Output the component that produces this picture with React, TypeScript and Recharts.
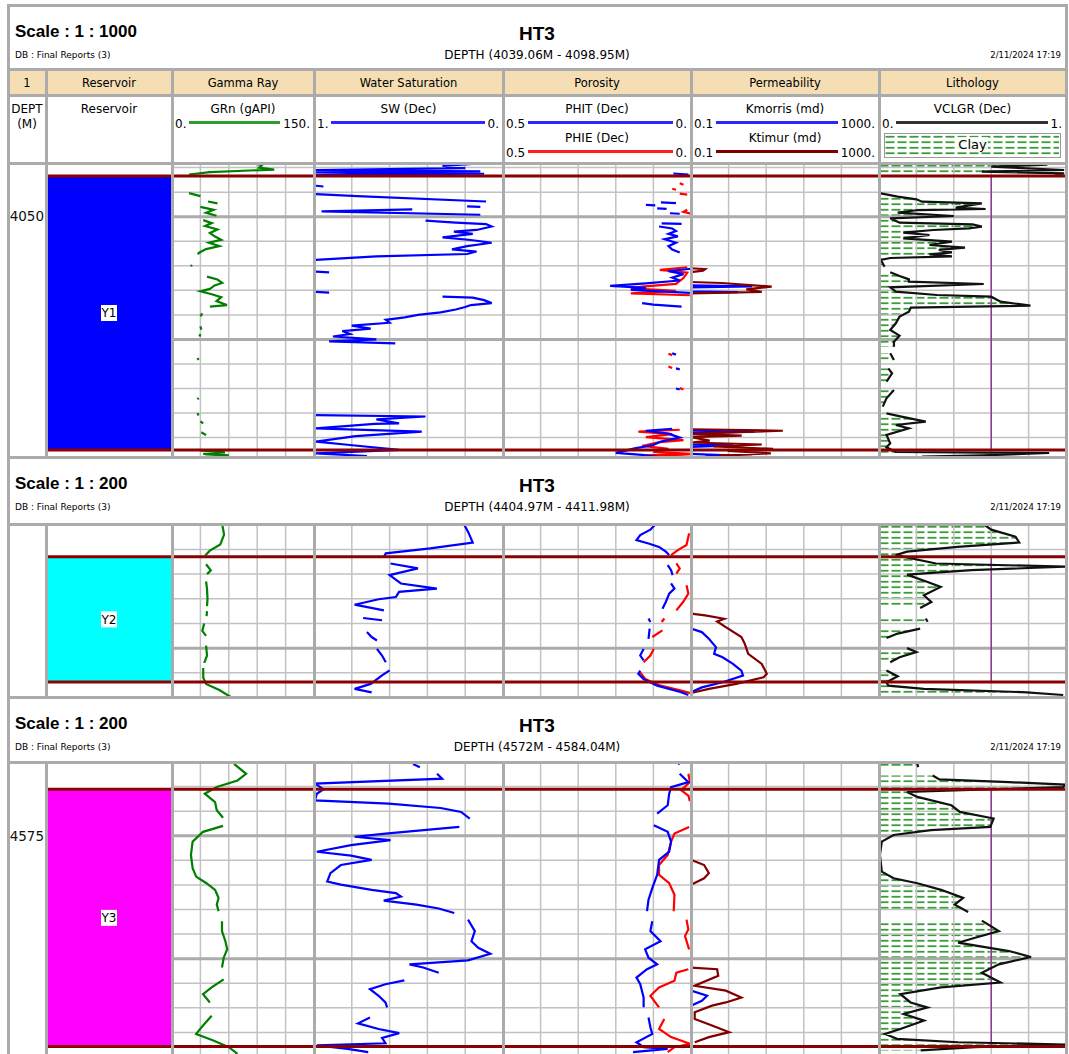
import React from "react";
import { Area, ComposedChart, Line, ReferenceArea, ReferenceLine, XAxis, YAxis } from "recharts";

type Pt = [number, number | null];

// value grid of each track (5 equal divisions)
const grGrid = [30, 60, 90, 120];
const swGrid = [0.2, 0.4, 0.6, 0.8];
const porGrid = [0.1, 0.2, 0.3, 0.4];
const permGrid = [0.631, 3.981, 25.12, 158.5];
const vclGrid = [0.2, 0.4, 0.6, 0.8];
const vclCutoff = 0.6;

// ---------- section 1 : 1/1000 ----------
const s1Range = [4039.06, 4098.95];
const s1Minor = [4040, 4045, 4055, 4060, 4065, 4070, 4080, 4085, 4090, 4095];
const s1Major = [4050, 4075];
const s1DepthLabels = [4050];
const s1Zone = { name: "Y1", top: 4041.71, bottom: 4097.52 };

const s1Gr: Pt[] = [
  [4039.2, 88], [4039.5, 95], [4040.0, 92], [4040.4, 108], [4040.9, 40], [4041.4, 18], [4042.5, null],
  [4045.2, 18], [4045.8, 30], [4046.3, null], [4046.9, 38], [4047.3, 48], [4047.6, null],
  [4048.0, 30], [4048.6, 44], [4049.2, 36], [4049.8, 47], [4050.2, null],
  [4050.7, 33], [4051.3, 42], [4051.9, 35], [4052.6, 48], [4053.3, 40], [4054.0, 45], [4054.7, 52],
  [4055.3, 39], [4056.0, 50], [4056.6, 36], [4057.2, 30], [4057.6, 27], [4058.5, null],
  [4059.8, 21], [4060.1, 20], [4061.0, null],
  [4062.2, 37], [4062.8, 48], [4063.5, 53], [4064.0, 45], [4064.7, 40], [4065.2, 30], [4065.8, 42],
  [4066.4, 52], [4067.2, 47], [4068.0, 58], [4068.3, 40], [4069.0, null],
  [4069.7, 32], [4070.3, 30], [4071.0, null], [4072.3, 30], [4073.0, 31], [4073.5, null],
  [4073.9, 30], [4074.4, 29], [4075.0, null], [4078.8, 27], [4079.2, 28], [4080.0, null],
  [4086.9, 28], [4087.2, 27], [4088.0, null], [4090.0, 27], [4090.5, 28], [4091.0, null],
  [4091.7, 30], [4092.1, 33], [4093.0, null], [4093.9, 31], [4094.5, 36], [4095.0, null],
  [4097.6, 30], [4098.0, 56], [4098.3, 33], [4098.6, 60], [4098.9, 35],
];

const s1Sw: Pt[] = [
  [4039.26, 0.16], [4039.67, 0.32], [4040.1, 0.2], [4040.5, 0.99], [4040.75, 0.12], [4041.0, 0.99],
  [4041.25, 0.1], [4041.5, 0.99], [4041.8, null], [4043.7, 0.99], [4043.85, 0.95], [4044.2, null],
  [4045.4, 0.99], [4045.8, 0.77], [4046.9, 0.09], [4047.2, null], [4047.9, 0.19], [4048.0, 0.12], [4048.3, null],
  [4048.5, 0.48], [4048.9, 0.96], [4049.6, 0.12], [4050.2, null],
  [4050.8, 0.41], [4051.2, 0.25], [4051.5, 0.09], [4052.0, 0.06], [4052.7, 0.14], [4053.05, 0.26],
  [4053.5, 0.16], [4054.2, 0.32], [4054.75, 0.17], [4055.3, 0.06], [4056.0, 0.19], [4056.65, 0.27],
  [4057.1, 0.14], [4057.6, 0.19], [4058.1, 0.67], [4058.8, 0.99], [4059.2, null],
  [4061.2, 0.99], [4061.35, 0.92], [4061.6, null], [4065.3, 0.99], [4065.45, 0.92], [4065.8, null],
  [4066.3, 0.32], [4066.5, 0.16], [4067.0, 0.1], [4067.6, 0.06], [4068.0, 0.17], [4068.4, 0.2],
  [4068.9, 0.25], [4069.5, 0.33], [4070.0, 0.45], [4070.5, 0.52], [4071.0, 0.62], [4071.6, 0.6],
  [4072.2, 0.8], [4072.8, 0.7], [4073.3, 0.85], [4073.9, 0.81], [4074.4, 0.9], [4075.0, 0.67],
  [4075.4, 0.92], [4075.8, 0.57], [4076.2, null],
  [4090.4, 0.99], [4090.7, 0.41], [4091.3, 0.67], [4092.1, 0.55], [4092.2, 0.68], [4093.1, 0.99],
  [4093.8, 0.43], [4094.7, 0.78], [4095.8, 0.99], [4096.5, 0.81], [4097.5, 0.55], [4098.2, 0.99], [4098.75, 0.72],
];

const s1Phit: Pt[] = [
  [4041.2, 0.047], [4041.4, 0.007], [4041.7, null],
  [4047.1, 0.08], [4047.25, 0.04], [4047.4, null], [4047.6, 0.12], [4047.7, 0.095], [4048.0, null],
  [4048.3, 0.09], [4048.4, 0.065], [4048.6, null], [4049.3, 0.056], [4049.4, 0.03], [4049.6, null],
  [4051.35, 0.078], [4051.45, 0.025], [4051.6, null],
  [4052.0, 0.085], [4052.4, 0.05], [4052.9, 0.04], [4053.5, 0.06], [4054.0, 0.035], [4054.6, 0.07],
  [4055.3, 0.04], [4056.0, 0.06], [4056.7, 0.05], [4057.3, 0.03], [4058.0, null],
  [4060.6, 0.0], [4061.1, 0.06], [4061.7, 0.02], [4062.4, 0.05], [4063.0, 0.03], [4063.6, 0.12],
  [4064.1, 0.215], [4064.5, 0.12], [4064.9, 0.16], [4065.5, 0.003], [4066.0, null],
  [4067.6, 0.13], [4067.9, 0.1], [4068.3, 0.025], [4068.6, null],
  [4077.8, 0.05], [4078.1, 0.04], [4078.4, null], [4080.9, 0.04], [4081.1, 0.03], [4081.3, null],
  [4085.0, 0.04], [4085.2, 0.03], [4085.4, null],
  [4093.2, 0.05], [4093.6, 0.12], [4094.2, 0.06], [4095.0, 0.03], [4095.8, 0.08], [4096.5, 0.1],
  [4097.2, 0.15], [4098.1, 0.2], [4098.5, 0.13], [4098.9, 0.09],
];

const s1Phie: Pt[] = [
  [4043.2, 0.03], [4043.5, 0.02], [4043.8, null], [4044.3, 0.05], [4044.5, 0.04], [4044.8, null],
  [4045.3, 0.03], [4045.5, 0.01], [4045.8, null], [4048.6, 0.01], [4049.0, 0.02], [4049.4, 0.0], [4049.6, null],
  [4060.3, 0.01], [4060.85, 0.083], [4061.4, 0.01], [4062.5, 0.02], [4063.7, 0.04], [4064.25, 0.13],
  [4064.6, 0.16], [4065.1, 0.04], [4065.6, 0.16], [4066.0, 0.003], [4066.3, null],
  [4077.9, 0.06], [4078.2, 0.05], [4078.5, null], [4080.5, 0.06], [4080.8, 0.05], [4081.0, null],
  [4084.9, 0.03], [4085.2, 0.02], [4085.5, null],
  [4093.4, 0.03], [4093.8, 0.14], [4094.3, 0.05], [4094.9, 0.12], [4095.5, 0.02], [4096.0, 0.09],
  [4096.7, 0.13], [4097.3, 0.06], [4097.9, 0.1], [4098.3, 0.0], [4098.6, 0.12], [4098.9, 0.0],
];

const s1Kmor: Pt[] = [
  [4064.0, 0.1], [4064.2, 2.0], [4064.4, 0.1], [4065.2, 0.1], [4065.35, 1.0], [4065.5, 0.1], [4065.8, null],
  [4093.6, 0.1], [4093.8, 2.2], [4094.1, 0.1], [4094.4, null], [4096.4, 0.1], [4096.6, 0.8], [4096.9, 0.1],
  [4097.2, null], [4098.3, 0.1], [4098.6, 0.6], [4098.9, 0.2],
];

const s1Ktim: Pt[] = [
  [4060.5, 0.1], [4060.7, 0.2], [4061.0, 0.18], [4061.3, 0.1], [4061.6, null],
  [4063.3, 0.1], [4063.5, 0.45], [4064.25, 5.2], [4064.8, 1.5], [4065.3, 3.2], [4065.6, 0.1], [4065.9, null],
  [4093.3, 0.1], [4093.6, 9.0], [4094.0, 0.5], [4094.3, 0.1], [4094.6, 1.2], [4094.9, 0.1], [4095.6, 0.25],
  [4096.0, 0.1], [4096.4, 3.2], [4096.8, 0.3], [4097.3, 5.6], [4097.7, 0.6], [4098.2, 5.0], [4098.6, 0.4], [4098.9, 2.0],
];

const s1Vcl: Pt[] = [
  [4039.26, 0.78], [4039.4, 0.9], [4039.81, 0.6], [4040.49, 0.99], [4040.83, 0.55], [4041.17, 0.99],
  [4041.44, 0.94], [4041.8, null],
  [4045.24, 0.01], [4045.92, 0.1], [4046.46, 0.2], [4046.94, 0.23], [4047.28, 0.55], [4048.16, 0.41],
  [4048.43, 0.57], [4048.64, 0.21], [4049.18, 0.1], [4049.86, 0.4], [4050.33, 0.06], [4051.22, 0.11],
  [4051.55, 0.5], [4052.03, 0.55], [4052.37, 0.48], [4052.71, 0.29], [4053.25, 0.13], [4053.73, 0.27],
  [4054.41, 0.13], [4055.09, 0.39], [4055.76, 0.27], [4056.31, 0.46], [4056.78, 0.32], [4057.26, 0.39],
  [4057.67, 0.27], [4058.07, 0.39], [4058.41, 0.06], [4058.82, 0.01], [4060.18, 0.03], [4060.7, null],
  [4061.33, 0.06], [4062.08, 0.11], [4062.76, 0.16], [4063.23, 0.16], [4063.71, 0.56], [4064.39, 0.06],
  [4065.27, 0.09], [4065.95, 0.31], [4066.29, 0.6], [4067.31, 0.65], [4068.12, 0.81], [4068.53, 0.17],
  [4069.34, 0.16], [4070.36, 0.11], [4071.72, 0.09], [4073.08, 0.06], [4074.23, 0.11], [4075.46, 0.08],
  [4076.47, 0.08], [4077.0, null], [4077.83, 0.06], [4079.19, 0.08], [4080.0, null], [4080.89, 0.05],
  [4081.91, 0.07], [4083.6, 0.04], [4084.4, null], [4085.3, 0.08], [4087.0, 0.04], [4088.69, 0.02],
  [4089.4, null], [4090.05, 0.04], [4090.73, 0.12], [4091.75, 0.25],
  [4092.43, 0.09], [4093.11, 0.16], [4094.47, 0.04], [4096.17, 0.06], [4096.98, 0.04], [4097.93, 0.09],
  [4098.13, 0.91], [4098.61, 0.55], [4098.88, 0.23],
];

// ---------- section 2 : 1/200 ----------
const s2Range = [4404.97, 4411.98];
const s2Minor = [4405, 4406, 4407, 4408, 4409, 4411];
const s2Major = [4410];
const s2DepthLabels: number[] = [];
const s2Zone = { name: "Y2", top: 4406.3, bottom: 4411.37 };

const s2Gr: Pt[] = [
  [4404.97, 53], [4405.4, 55], [4405.8, 51], [4406.05, 40], [4406.25, 35], [4406.4, null],
  [4406.6, 36], [4406.85, 41], [4407.0, 37], [4407.15, null], [4407.3, 36], [4407.6, 37], [4408.0, 37.5],
  [4408.3, 37], [4408.4, null], [4408.5, 37], [4408.7, 36.5], [4408.85, null], [4409.0, 34], [4409.3, 32],
  [4409.5, 36], [4409.7, null], [4409.9, 36], [4410.3, 37], [4410.6, 34], [4410.7, null], [4410.8, 33],
  [4411.2, 33], [4411.45, 36], [4411.7, 50], [4411.98, 62],
];

const s2Sw: Pt[] = [
  [4404.94, 0.21], [4405.28, 0.185], [4405.72, 0.16], [4405.96, 0.385], [4406.16, 0.62], [4406.3, 0.63],
  [4406.42, null], [4406.57, 0.595], [4406.77, 0.45], [4407.04, 0.6], [4407.38, 0.54], [4407.59, 0.35],
  [4407.72, 0.55], [4407.93, 0.567], [4408.02, 0.658], [4408.24, 0.785], [4408.47, 0.63], [4408.6, null],
  [4408.78, 0.74], [4408.87, 0.64], [4409.1, null], [4409.35, 0.72], [4409.55, 0.695], [4409.69, 0.667],
  [4409.85, null], [4410.03, 0.667], [4410.3, 0.64], [4410.57, 0.62], [4410.72, null], [4410.9, 0.6],
  [4411.1, 0.64], [4411.45, 0.7], [4411.65, 0.785], [4411.79, 0.695],
];

const s2Phit: Pt[] = [
  [4404.97, 0.094], [4405.2, 0.108], [4405.42, 0.135], [4405.62, 0.145], [4405.76, 0.113], [4405.9, 0.085],
  [4406.09, 0.067], [4406.23, 0.058], [4406.4, null], [4406.64, 0.062], [4406.84, 0.053], [4407.04, 0.049],
  [4407.2, null], [4407.38, 0.053], [4407.59, 0.044], [4407.79, 0.058], [4408.13, 0.067], [4408.4, 0.076],
  [4408.6, null], [4408.8, 0.113], [4408.94, 0.108], [4409.05, null], [4409.21, 0.11], [4409.62, 0.113],
  [4409.8, null], [4410.03, 0.126], [4410.3, 0.135], [4410.5, 0.126], [4410.7, null], [4410.91, 0.135],
  [4411.04, 0.14], [4411.25, 0.126], [4411.52, 0.09], [4411.79, 0.026], [4411.9, 0.007],
];

const s2Phie: Pt[] = [
  [4405.35, 0.005], [4405.62, 0.009], [4405.82, 0.012], [4406.03, 0.035], [4406.23, 0.053], [4406.4, null],
  [4406.57, 0.039], [4406.77, 0.03], [4406.98, 0.039], [4407.2, null], [4407.45, 0.012], [4407.79, 0.007],
  [4408.13, 0.021], [4408.47, 0.039], [4408.6, null], [4408.8, 0.071], [4408.94, 0.078], [4409.1, null],
  [4409.28, 0.076], [4409.55, 0.103], [4409.8, null], [4410.03, 0.099], [4410.3, 0.108], [4410.57, 0.126],
  [4410.75, null], [4410.98, 0.135], [4411.25, 0.122], [4411.52, 0.081], [4411.72, 0.026], [4411.82, 0.002],
];

const s2Kmor: Pt[] = [
  [4409.21, 0.1], [4409.35, 0.17], [4409.62, 0.24], [4409.96, 0.34], [4410.23, 0.31], [4410.37, 0.47],
  [4410.64, 0.78], [4410.91, 1.18], [4411.11, 1.28], [4411.38, 0.47], [4411.59, 0.17], [4411.79, 0.1],
];

const s2Ktim: Pt[] = [
  [4408.6, 0.1], [4408.67, 0.2], [4408.81, 0.51], [4408.92, 0.36], [4409.15, 0.55], [4409.55, 1.18],
  [4409.82, 1.39], [4410.23, 1.65], [4410.64, 3.2], [4411.04, 4.1], [4411.18, 3.5], [4411.45, 0.92],
  [4411.65, 0.24], [4411.82, 0.1],
];

const s2Vcl: Pt[] = [
  [4404.98, 0.56], [4405.2, 0.6], [4405.48, 0.73], [4405.72, 0.75], [4405.9, 0.42], [4406.09, 0.15],
  [4406.23, 0.09], [4406.57, 0.305], [4406.7, 0.995], [4406.84, 0.495], [4407.02, 0.15], [4407.32, 0.26],
  [4407.52, 0.33], [4407.86, 0.24], [4408.13, 0.28], [4408.37, 0.22], [4408.55, null], [4408.8, 0.25],
  [4408.93, 0.26], [4409.05, null], [4409.21, 0.22], [4409.41, 0.1], [4409.59, 0.04], [4409.8, null],
  [4410.0, 0.15], [4410.16, 0.2], [4410.37, 0.11], [4410.57, 0.06], [4410.72, null], [4410.91, 0.04],
  [4411.14, 0.1], [4411.38, 0.04], [4411.52, 0.05], [4411.65, 0.24], [4411.79, 0.79], [4411.9, 0.985],
];

// ---------- section 3 : 1/200 ----------
const s3Range = [4572, 4584.04];
const s3Minor = [4573, 4574, 4576, 4577, 4578, 4579, 4581, 4582, 4583, 4584];
const s3Major = [4575, 4580];
const s3DepthLabels = [4575];
const s3Zone = { name: "Y3", top: 4573.11, bottom: 4583.57 };

const s3Gr: Pt[] = [
  [4572.08, 65.5], [4572.48, 78.3], [4572.75, 69.2], [4573.02, 47.3], [4573.29, 34.6], [4573.63, 45.5],
  [4573.96, 47.3], [4574.27, 53.9], [4574.42, null], [4574.6, 53.9], [4574.84, 32.8], [4575.24, 21.8],
  [4575.78, 20], [4576.32, 21.8], [4576.66, 25.5], [4576.93, 36.4], [4577.2, 45.5], [4577.53, 49.2],
  [4577.8, 47.3], [4578.07, 49.2], [4578.25, null], [4578.48, 52.8], [4578.88, 52.8], [4579.29, 56.4],
  [4579.62, 58.3], [4579.96, 54.6], [4580.36, 52.8], [4580.6, null], [4580.84, 54.6], [4581.17, 41.9],
  [4581.44, 32.8], [4581.78, 40], [4582.0, null], [4582.32, 41.9], [4582.72, 32.8], [4583.06, 25.5],
  [4583.33, 43.7], [4583.6, 60], [4583.87, 69.2],
];

const s3Sw: Pt[] = [
  [4572.08, 0.476], [4572.21, 0.44], [4572.35, null], [4572.48, 0.349], [4572.68, 0.322], [4572.88, 0.995],
  [4573.11, 0.95], [4573.29, 0.985], [4573.56, 0.995], [4573.69, 0.604], [4573.87, 0.33], [4574.03, 0.222],
  [4574.3, 0.176], [4574.45, null], [4574.64, 0.231], [4574.91, 0.622], [4575.04, 0.785], [4575.18, 0.595],
  [4575.38, 0.804], [4575.65, 0.985], [4575.81, 0.804], [4575.98, 0.695], [4576.19, 0.858], [4576.52, 0.913],
  [4576.86, 0.93], [4576.99, 0.858], [4577.2, 0.695], [4577.33, 0.567], [4577.47, 0.54], [4577.64, 0.631],
  [4577.8, 0.458], [4577.96, 0.34], [4578.14, 0.258], [4578.28, null], [4578.41, 0.185], [4578.88, 0.149],
  [4579.29, 0.167], [4579.56, 0.131], [4579.8, 0.067], [4580.07, 0.185], [4580.23, 0.495], [4580.36, 0.422],
  [4580.57, 0.34], [4580.72, null], [4580.88, 0.522], [4581.04, 0.622], [4581.24, 0.704], [4581.51, 0.658],
  [4581.78, 0.622], [4581.98, 0.613], [4582.18, null], [4582.39, 0.704], [4582.63, 0.767], [4582.86, 0.658],
  [4583.03, 0.549], [4583.22, 0.64], [4583.44, 0.622], [4583.53, 0.985], [4583.67, 0.822], [4583.8, 0.713],
];

const s3Phit: Pt[] = [
  [4572.0, 0.035], [4572.1, 0.03], [4572.25, null], [4572.48, 0.03], [4572.82, 0.007], [4573.02, 0.053],
  [4573.29, 0.058], [4573.76, 0.062], [4574.1, 0.09], [4574.3, null], [4574.57, 0.099], [4574.84, 0.062],
  [4575.24, 0.053], [4575.65, 0.058], [4575.98, 0.085], [4576.59, 0.09], [4577.13, 0.103], [4577.6, 0.113],
  [4578.07, 0.117], [4578.25, null], [4578.48, 0.103], [4578.88, 0.108], [4579.29, 0.081], [4579.62, 0.122],
  [4579.96, 0.113], [4580.23, 0.09], [4580.43, 0.117], [4580.77, 0.145], [4581.04, 0.135], [4581.58, 0.126],
  [4581.98, 0.126], [4582.18, null], [4582.39, 0.113], [4582.79, 0.108], [4583.06, 0.103], [4583.4, 0.145],
  [4583.6, 0.126], [4583.67, 0.062], [4583.8, 0.154],
];

const s3Phie: Pt[] = [
  [4572.48, 0.007], [4572.82, 0.003], [4573.15, 0.026], [4573.37, 0.007], [4573.6, 0.003], [4573.9, null],
  [4574.64, 0.005], [4574.91, 0.044], [4575.24, 0.053], [4575.78, 0.062], [4576.19, 0.085], [4576.59, 0.085],
  [4576.93, 0.058], [4577.4, 0.044], [4578.07, 0.046], [4578.25, null], [4578.41, 0.012], [4578.81, 0.007],
  [4579.08, 0.016], [4579.62, 0.005], [4580.0, null], [4580.43, 0.007], [4580.57, 0.039], [4580.9, 0.044],
  [4581.17, 0.085], [4581.51, 0.108], [4581.98, 0.085], [4582.2, null], [4582.45, 0.071], [4582.86, 0.085],
  [4583.19, 0.053], [4583.46, 0.003], [4583.6, 0.044], [4583.8, 0.062],
];

const s3Kmor: Pt[] = [
  [4581.3, 0.1], [4581.51, 0.22], [4581.71, 0.17], [4581.91, 0.1],
];

const s3Ktim: Pt[] = [
  [4575.98, 0.1], [4576.19, 0.19], [4576.52, 0.24], [4576.73, 0.19], [4576.99, 0.1], [4577.3, null],
  [4580.36, 0.1], [4580.43, 0.36], [4580.7, 0.38], [4581.1, 0.12], [4581.3, 0.55], [4581.58, 1.18],
  [4581.78, 0.55], [4581.91, 0.28], [4582.18, 0.12], [4582.45, 0.12], [4582.72, 0.28], [4582.99, 0.65],
  [4583.19, 0.24], [4583.4, 0.12],
];

const s3Vcl: Pt[] = [
  [4572.08, 0.205], [4572.21, 0.21], [4572.35, null], [4572.55, 0.287], [4572.71, 0.323], [4572.82, 0.695],
  [4572.92, 0.995], [4573.02, 0.985], [4573.22, 0.15], [4573.42, 0.205], [4573.76, 0.387], [4574.03, 0.432],
  [4574.3, 0.613], [4574.64, 0.595], [4574.77, 0.278], [4574.97, 0.078], [4575.24, 0.015], [4575.78, 0.005],
  [4576.46, 0.015], [4576.73, 0.078], [4576.93, 0.205], [4577.2, 0.332], [4577.53, 0.45], [4577.8, 0.405],
  [4578.1, 0.477], [4578.25, null], [4578.45, 0.55], [4578.88, 0.641], [4579.15, 0.514], [4579.35, 0.423],
  [4579.69, 0.695], [4579.93, 0.813], [4580.23, 0.641], [4580.57, 0.55], [4580.97, 0.65], [4581.17, 0.332],
  [4581.44, 0.114], [4581.78, 0.169], [4581.98, 0.26], [4582.25, 0.132], [4582.52, 0.241], [4582.86, 0.114],
  [4583.06, 0.033], [4583.26, 0.096], [4583.4, 0.423], [4583.49, 0.995], [4583.6, 0.514], [4583.73, 0.223],
];

// ---------- layout ----------
const FONT = "'DejaVu Sans', sans-serif";
const TITLE_FONT = "'Liberation Sans', Arial, sans-serif";
const COLS = [8, 46, 172, 314, 503, 691, 879, 1066];
const GRID = "#c2c2c2";
const GRID_MAJOR = "#ababab";
const BORDER = "#ababab";
const ZONE_LINE = "#8b0000";
const WHEAT = "#f5deb3";

const sections = [
  {
    top: 5, dataTop: 163, dataBottom: 457, scale: "Scale : 1 : 1000", range: "DEPTH (4039.06M - 4098.95M)",
    depth: s1Range, minor: s1Minor, major: s1Major, labels: s1DepthLabels, zone: s1Zone, zoneColor: "#0000ff",
    gr: s1Gr, sw: s1Sw, phit: s1Phit, phie: s1Phie, kmor: s1Kmor, ktim: s1Ktim, vcl: s1Vcl,
  },
  {
    top: 457, dataTop: 524, dataBottom: 697, scale: "Scale : 1 : 200", range: "DEPTH (4404.97M - 4411.98M)",
    depth: s2Range, minor: s2Minor, major: s2Major, labels: s2DepthLabels, zone: s2Zone, zoneColor: "#00ffff",
    gr: s2Gr, sw: s2Sw, phit: s2Phit, phie: s2Phie, kmor: s2Kmor, ktim: s2Ktim, vcl: s2Vcl,
  },
  {
    top: 697, dataTop: 762, dataBottom: 1058, scale: "Scale : 1 : 200", range: "DEPTH (4572M - 4584.04M)",
    depth: s3Range, minor: s3Minor, major: s3Major, labels: s3DepthLabels, zone: s3Zone, zoneColor: "#ff00ff",
    gr: s3Gr, sw: s3Sw, phit: s3Phit, phie: s3Phie, kmor: s3Kmor, ktim: s3Ktim, vcl: s3Vcl,
  },
];

// split a curve into its unbroken runs (null = no reading)
const runs = (pts: Pt[]) => {
  const out: { d: number; v: number }[][] = [];
  let cur: { d: number; v: number }[] = [];
  pts.forEach(([d, v]) => {
    if (v == null) {
      if (cur.length) out.push(cur);
      cur = [];
    } else cur.push({ d, v });
  });
  if (cur.length) out.push(cur);
  return out;
};
const noMargin = { top: 0, right: 0, bottom: 0, left: 0 };

function Txt({ left, top, width, size, bold, align, font, children, color }: any) {
  const h = Math.ceil(size * 1.5);
  return (
    <div
      style={{
        position: "absolute", left, top: top - h / 2, width, height: h, lineHeight: `${h}px`,
        fontSize: size, fontWeight: bold ? 700 : 400, textAlign: align || "left", whiteSpace: "nowrap",
        fontFamily: font || FONT, color: color || "#000",
      }}
    >
      {children}
    </div>
  );
}

function HLine({ x0, x1, y, w = 3 }: any) {
  return <div style={{ position: "absolute", left: x0, top: y - Math.floor(w / 2), width: x1 - x0, height: w, background: BORDER }} />;
}
function VLine({ x, y0, y1, w = 3 }: any) {
  return <div style={{ position: "absolute", left: x - Math.floor(w / 2), top: y0, width: w, height: y1 - y0, background: BORDER }} />;
}

function ClayPattern({ id }: { id: string }) {
  return (
    <pattern id={id} patternUnits="userSpaceOnUse" width={12} height={5.5}>
      <line x1={0.5} y1={2.75} x2={9.5} y2={2.75} stroke="#3c9c3c" strokeWidth={1.8} />
    </pattern>
  );
}

function LogTrack({ x0, x1, top, bottom, depth, domain, log, reversed, grid, minor, major, curves, fill, zone, cutoff, pid }: any) {
  const width = x1 - x0;
  const height = bottom - top;
  return (
    <div style={{ position: "absolute", left: x0, top, width, height }}>
      <ComposedChart layout="vertical" width={width} height={height} margin={noMargin}>
        {fill && (
          <defs>
            <ClayPattern id={pid} />
          </defs>
        )}
        <XAxis type="number" domain={domain} scale={log ? "log" : "linear"} reversed={reversed} hide allowDataOverflow />
        <YAxis type="number" dataKey="d" domain={depth} hide allowDataOverflow />
        {fill &&
          runs(fill).map((seg, j) => (
            <Area key={`f${j}`} data={seg} dataKey="v" stroke="none" fill={`url(#${pid})`} fillOpacity={1} isAnimationActive={false} />
          ))}
        {grid.map((v: number) => (
          <ReferenceLine key={`g${v}`} x={v} stroke={GRID} strokeWidth={1.5} />
        ))}
        {minor.map((d: number) => (
          <ReferenceLine key={`m${d}`} y={d} stroke={GRID} strokeWidth={1.5} />
        ))}
        {major.map((d: number) => (
          <ReferenceLine key={`M${d}`} y={d} stroke={GRID_MAJOR} strokeWidth={3} />
        ))}
        {cutoff != null && (
          <ReferenceLine segment={[{ x: cutoff, y: zone.top }, { x: cutoff, y: zone.bottom }]} stroke="#8e1f8e" strokeWidth={1.3} />
        )}
        {curves.map((c: any, i: number) =>
          runs(c.pts).map((seg, j) => (
            <Line
              key={`c${i}-${j}`} data={seg} dataKey="v" stroke={c.color} strokeWidth={2.2}
              dot={false} activeDot={false} isAnimationActive={false}
            />
          ))
        )}
        <ReferenceLine y={zone.top} stroke={ZONE_LINE} strokeWidth={3} />
        <ReferenceLine y={zone.bottom} stroke={ZONE_LINE} strokeWidth={3} />
      </ComposedChart>
    </div>
  );
}

function ZoneLabel({ viewBox, text }: any) {
  if (!viewBox) return null;
  const cx = viewBox.x + viewBox.width / 2;
  const cy = viewBox.y + viewBox.height / 2;
  return (
    <g>
      <rect x={cx - 8} y={cy - 8} width={16} height={16} fill="#fff" />
      <text x={cx} y={cy + 4.5} textAnchor="middle" fontSize={12} fill="#000" fontFamily={FONT}>
        {text}
      </text>
    </g>
  );
}

function ZoneTrack({ x0, x1, top, bottom, depth, zone, color }: any) {
  const width = x1 - x0;
  const height = bottom - top;
  const edges = [{ d: zone.top, v: 1 }, { d: zone.bottom, v: 1 }];
  return (
    <div style={{ position: "absolute", left: x0, top, width, height }}>
      <ComposedChart layout="vertical" width={width} height={height} margin={noMargin}>
        <XAxis type="number" domain={[0, 1]} hide />
        <YAxis type="number" dataKey="d" domain={depth} hide allowDataOverflow />
        <Area data={edges} dataKey="v" stroke="none" fill={color} fillOpacity={1} isAnimationActive={false} />
        <ReferenceArea
          x1={0} x2={1} y1={zone.top} y2={zone.bottom} fill={color} fillOpacity={1} stroke="none"
          label={{ content: (p: any) => <ZoneLabel viewBox={p.viewBox} text={zone.name} /> }}
        />
        <ReferenceLine y={zone.top} stroke={ZONE_LINE} strokeWidth={3} />
        <ReferenceLine y={zone.bottom} stroke={ZONE_LINE} strokeWidth={3} />
      </ComposedChart>
    </div>
  );
}

function DepthTrack({ x0, x1, top, bottom, depth, labels, zone }: any) {
  const width = x1 - x0;
  const height = bottom - top;
  const edges = [{ d: zone.top, v: 0 }, { d: zone.bottom, v: 0 }];
  return (
    <div style={{ position: "absolute", left: x0, top, width, height }}>
      <ComposedChart layout="vertical" width={width} height={height} margin={noMargin}>
        <XAxis type="number" domain={[0, 1]} hide />
        <YAxis type="number" dataKey="d" domain={depth} hide allowDataOverflow />
        <Line data={edges} dataKey="v" stroke="none" dot={false} activeDot={false} isAnimationActive={false} />
        {labels.map((d: number) => (
          <ReferenceLine
            key={d} y={d} stroke="none"
            label={{ value: String(d), position: "insideRight", offset: 2, fontSize: 13.5, fill: "#111", fontFamily: FONT }}
          />
        ))}
      </ComposedChart>
    </div>
  );
}

function Title({ top, scale, range }: any) {
  return (
    <>
      <Txt left={15} top={top + 27} size={17} bold font={TITLE_FONT}>{scale}</Txt>
      <Txt left={15} top={top + 50} size={9}>DB : Final Reports (3)</Txt>
      <Txt left={8} width={1058} top={top + 28} size={19} bold align="center" font={TITLE_FONT}>HT3</Txt>
      <Txt left={8} width={1058} top={top + 50} size={12} align="center">{range}</Txt>
      <Txt left={900} width={161} top={top + 50} size={8.5} align="right">2/11/2024 17:19</Txt>
    </>
  );
}

function Section({ s, idx }: any) {
  const common = { top: s.dataTop, bottom: s.dataBottom, depth: s.depth, minor: s.minor, major: s.major, zone: s.zone };
  return (
    <>
      <Title top={s.top} scale={s.scale} range={s.range} />
      <DepthTrack x0={COLS[0]} x1={COLS[1]} top={s.dataTop} bottom={s.dataBottom} depth={s.depth} labels={s.labels} zone={s.zone} />
      <ZoneTrack x0={COLS[1]} x1={COLS[2]} top={s.dataTop} bottom={s.dataBottom} depth={s.depth} zone={s.zone} color={s.zoneColor} />
      <LogTrack {...common} x0={COLS[2]} x1={COLS[3]} domain={[0, 150]} grid={grGrid} curves={[{ pts: s.gr, color: "#008000" }]} />
      <LogTrack {...common} x0={COLS[3]} x1={COLS[4]} domain={[0, 1]} reversed grid={swGrid} curves={[{ pts: s.sw, color: "#0000ff" }]} />
      <LogTrack
        {...common} x0={COLS[4]} x1={COLS[5]} domain={[0, 0.5]} reversed grid={porGrid}
        curves={[{ pts: s.phie, color: "#ff0000" }, { pts: s.phit, color: "#0000ff" }]}
      />
      <LogTrack
        {...common} x0={COLS[5]} x1={COLS[6]} domain={[0.1, 1000]} log grid={permGrid}
        curves={[{ pts: s.kmor, color: "#0000ff" }, { pts: s.ktim, color: "#800000" }]}
      />
      <LogTrack
        {...common} x0={COLS[6]} x1={COLS[7]} domain={[0, 1]} grid={vclGrid} cutoff={vclCutoff}
        fill={s.vcl} pid={`clay${idx}`} curves={[{ pts: s.vcl, color: "#111111" }]}
      />
    </>
  );
}

function LegendRow({ x0, x1, y, left, right, color }: any) {
  return (
    <div
      style={{
        position: "absolute", left: x0 + 3, top: y - 8, width: x1 - x0 - 7, height: 16, display: "flex",
        alignItems: "center", gap: 3, fontSize: 12, fontFamily: FONT,
      }}
    >
      <span style={{ position: "relative", top: 2 }}>{left}</span>
      <span style={{ flex: 1, height: 3, background: color }} />
      <span style={{ position: "relative", top: 2 }}>{right}</span>
    </div>
  );
}

function TrackHeader() {
  const names = ["1", "Reservoir", "Gamma Ray", "Water Saturation", "Porosity", "Permeability", "Lithology"];
  const c = (i: number) => COLS[i];
  const w = (i: number) => COLS[i + 1] - COLS[i];
  return (
    <>
      <div style={{ position: "absolute", left: 8, top: 69, width: 1058, height: 26, background: WHEAT }} />
      {names.map((n, i) => (
        <Txt key={n} left={c(i)} width={w(i)} top={83} size={11.5} align="center">{n}</Txt>
      ))}
      <Txt left={c(0)} width={w(0)} top={109} size={12} align="center">DEPT</Txt>
      <Txt left={c(0)} width={w(0)} top={124} size={12} align="center">(M)</Txt>
      <Txt left={c(1)} width={w(1)} top={109} size={12} align="center">Reservoir</Txt>

      <Txt left={c(2)} width={w(2)} top={109} size={12} align="center">GRn (gAPI)</Txt>
      <LegendRow x0={c(2)} x1={c(3)} y={122} left="0." right="150." color="#2f9e2f" />

      <Txt left={c(3)} width={w(3)} top={109} size={12} align="center">SW (Dec)</Txt>
      <LegendRow x0={c(3)} x1={c(4)} y={122} left="1." right="0." color="#2828ff" />

      <Txt left={c(4)} width={w(4)} top={109} size={12} align="center">PHIT (Dec)</Txt>
      <LegendRow x0={c(4)} x1={c(5)} y={122} left="0.5" right="0." color="#2828ff" />
      <Txt left={c(4)} width={w(4)} top={138} size={12} align="center">PHIE (Dec)</Txt>
      <LegendRow x0={c(4)} x1={c(5)} y={151} left="0.5" right="0." color="#ff2020" />

      <Txt left={c(5)} width={w(5)} top={109} size={12} align="center">Kmorris (md)</Txt>
      <LegendRow x0={c(5)} x1={c(6)} y={122} left="0.1" right="1000." color="#2828ff" />
      <Txt left={c(5)} width={w(5)} top={138} size={12} align="center">Ktimur (md)</Txt>
      <LegendRow x0={c(5)} x1={c(6)} y={151} left="0.1" right="1000." color="#800000" />

      <Txt left={c(6)} width={w(6)} top={109} size={12} align="center">VCLGR (Dec)</Txt>
      <LegendRow x0={c(6)} x1={c(7)} y={122} left="0." right="1." color="#333333" />
      <div style={{ position: "absolute", left: 884, top: 133, width: 177, height: 25, boxSizing: "border-box", border: "1.5px solid #999" }}>
        <svg width={174} height={22} style={{ position: "absolute", left: 0, top: 0 }}>
          <defs>
            <ClayPattern id="clayLegend" />
          </defs>
          <rect x={0} y={0} width={174} height={22} fill="url(#clayLegend)" />
        </svg>
        <div style={{ position: "absolute", left: 0, top: 0, width: "100%", height: 22, lineHeight: "22px", textAlign: "center", fontSize: 13 }}>
          <span style={{ background: "rgba(255,255,255,0.85)", padding: "0 1px" }}>Clay</span>
        </div>
      </div>
    </>
  );
}

export default function App() {
  const spans = [[69, 457], [524, 697], [762, 1054]];
  return (
    <div style={{ position: "absolute", left: 0, top: 0, width: 1069, height: 1054, overflow: "hidden", background: "#fff", fontFamily: FONT }}>
      <TrackHeader />
      {sections.map((s, i) => (
        <Section key={i} s={s} idx={i} />
      ))}
      {[5, 69, 95, 163, 457, 524, 697, 762].map((y) => (
        <HLine key={y} x0={7} x1={1068} y={y} />
      ))}
      <VLine x={8} y0={4} y1={1054} />
      <VLine x={1066} y0={4} y1={1054} />
      {spans.map(([a, b]) => COLS.slice(1, -1).map((x) => <VLine key={`${a}-${x}`} x={x} y0={a} y1={b} />))}
    </div>
  );
}
